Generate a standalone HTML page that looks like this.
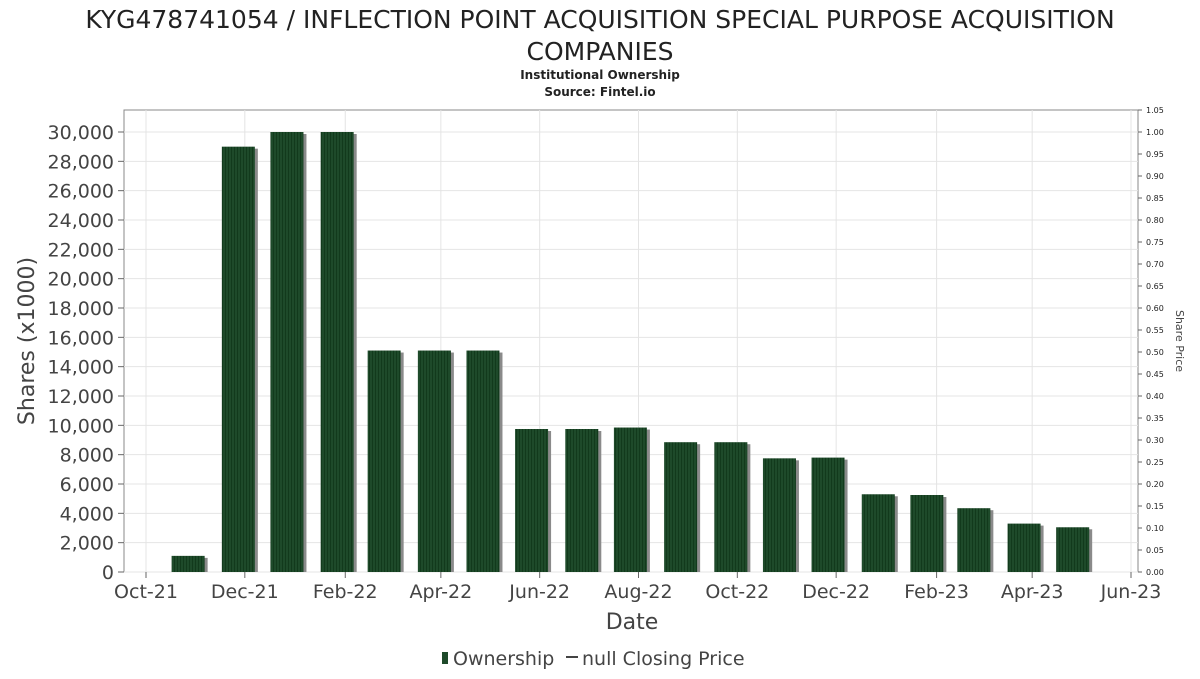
<!DOCTYPE html>
<html><head><meta charset="utf-8"><style>
body{margin:0;background:#fff;font-family:"DejaVu Sans","Liberation Sans",sans-serif}
</style></head><body>
<svg id="chart" width="1200" height="675" xmlns="http://www.w3.org/2000/svg" font-family="DejaVu Sans, Liberation Sans, sans-serif">
<defs><pattern id="stripe" width="3" height="4" patternUnits="userSpaceOnUse"><rect width="3" height="4" fill="#1e4a2a"/><rect width="1" height="4" fill="#123a1c"/></pattern></defs>
<text x="600" y="28" font-size="25" text-anchor="middle" fill="#222">KYG478741054 / INFLECTION POINT ACQUISITION SPECIAL PURPOSE ACQUISITION</text>
<text x="600" y="60" font-size="25" text-anchor="middle" fill="#222">COMPANIES</text>
<text x="600" y="79" font-size="12" font-weight="bold" text-anchor="middle" fill="#222">Institutional Ownership</text>
<text x="600" y="96" font-size="12" font-weight="bold" text-anchor="middle" fill="#222">Source: Fintel.io</text>
<rect x="124" y="110" width="1014" height="462" fill="#fff" stroke="#888"/>
<g id="grid"></g><g id="bars"></g><g id="axes"></g>
<text transform="translate(34,341) rotate(-90)" font-size="22" text-anchor="middle" fill="#444">Shares (x1000)</text>
<text transform="translate(1176,341) rotate(90)" font-size="11" text-anchor="middle" fill="#444">Share Price</text>
<text x="632" y="629" font-size="22" text-anchor="middle" fill="#444">Date</text>
<g>
<rect x="442" y="652" width="6" height="12" fill="#1e4a2a"/>
<text x="453" y="665" font-size="19" fill="#444">Ownership</text>
<line x1="566" y1="657" x2="578" y2="657" stroke="#444" stroke-width="2"/>
<text x="582" y="665" font-size="19" fill="#444">null Closing Price</text>
</g>
</svg>
<script>
const dates=["2021-10-27","2021-11-27","2021-12-27","2022-01-27","2022-02-25","2022-03-28","2022-04-27","2022-05-27","2022-06-27","2022-07-27","2022-08-27","2022-09-27","2022-10-27","2022-11-26","2022-12-27","2023-01-26","2023-02-24","2023-03-27","2023-04-26"];
const shares=[1100,29000,30000,30000,15100,15100,15100,9750,9750,9850,8850,8850,7750,7800,5300,5250,4350,3300,3050];
const yTicks=[0,2000,4000,6000,8000,10000,12000,14000,16000,18000,20000,22000,24000,26000,28000,30000];
const y2Ticks=[0,0.05,0.1,0.15,0.2,0.25,0.3,0.35,0.4,0.45,0.5,0.55,0.6,0.65,0.7,0.75,0.8,0.85,0.9,0.95,1.0,1.05];
const xTicks=["2021-10-01","2021-12-01","2022-02-01","2022-04-01","2022-06-01","2022-08-01","2022-10-01","2022-12-01","2023-02-01","2023-04-01","2023-06-01"];
const xLabels=["Oct-21","Dec-21","Feb-22","Apr-22","Jun-22","Aug-22","Oct-22","Dec-22","Feb-23","Apr-23","Jun-23"];
const NS="http://www.w3.org/2000/svg";
const t0=Date.parse("2021-10-01"),t1=Date.parse("2023-06-01");
const x=d=>146+(Date.parse(d)-t0)/(t1-t0)*(1131-146);
const y=v=>572-v/31500*462;
const y2=v=>572-v/1.05*462;
function mk(tag,at,parent){const e=document.createElementNS(NS,tag);for(const k in at)e.setAttribute(k,at[k]);document.getElementById(parent).appendChild(e);return e;}
yTicks.forEach(v=>{
 const g=mk("line",{x1:124,x2:1138,y1:y(v),y2:y(v),stroke:"#e4e4e4"},"grid");
 
 
 mk("line",{x1:118,x2:124,y1:y(v),y2:y(v),stroke:"#666"},"axes");
 const t=mk("text",{x:114,y:y(v)+7,"font-size":19,"text-anchor":"end",fill:"#444"},"axes");
 t.textContent=v.toLocaleString("en-US");
 
 
});
y2Ticks.forEach(v=>{
 mk("line",{x1:1138,x2:1142,y1:y2(v),y2:y2(v),stroke:"#666"},"axes");
 const t=mk("text",{x:1146,y:y2(v)+3,"font-size":8,fill:"#222"},"axes");
 t.textContent=v.toFixed(2);
 
 
});
xTicks.forEach((d,i)=>{
 const g=mk("line",{x1:x(d),x2:x(d),y1:110,y2:572,stroke:"#e4e4e4"},"grid");
 
 
 mk("line",{x1:x(d),x2:x(d),y1:572,y2:578,stroke:"#666"},"axes");
 const t=mk("text",{x:x(d),y:598,"font-size":19,"text-anchor":"middle",fill:"#444"},"axes");
 t.textContent=xLabels[i];
 
 
});
dates.forEach((d,i)=>{
 const cx=x(d),w=33,top=y(shares[i]);
 const s=mk("rect",{x:cx-w/2+3,y:top+2,width:w,height:572-top-2,fill:"#8a8a8a"},"bars");
 
 
 const b=mk("rect",{x:cx-w/2,y:top,width:w,height:572-top,fill:"url(#stripe)"},"bars");
 
 
});
</script>
</body></html>
